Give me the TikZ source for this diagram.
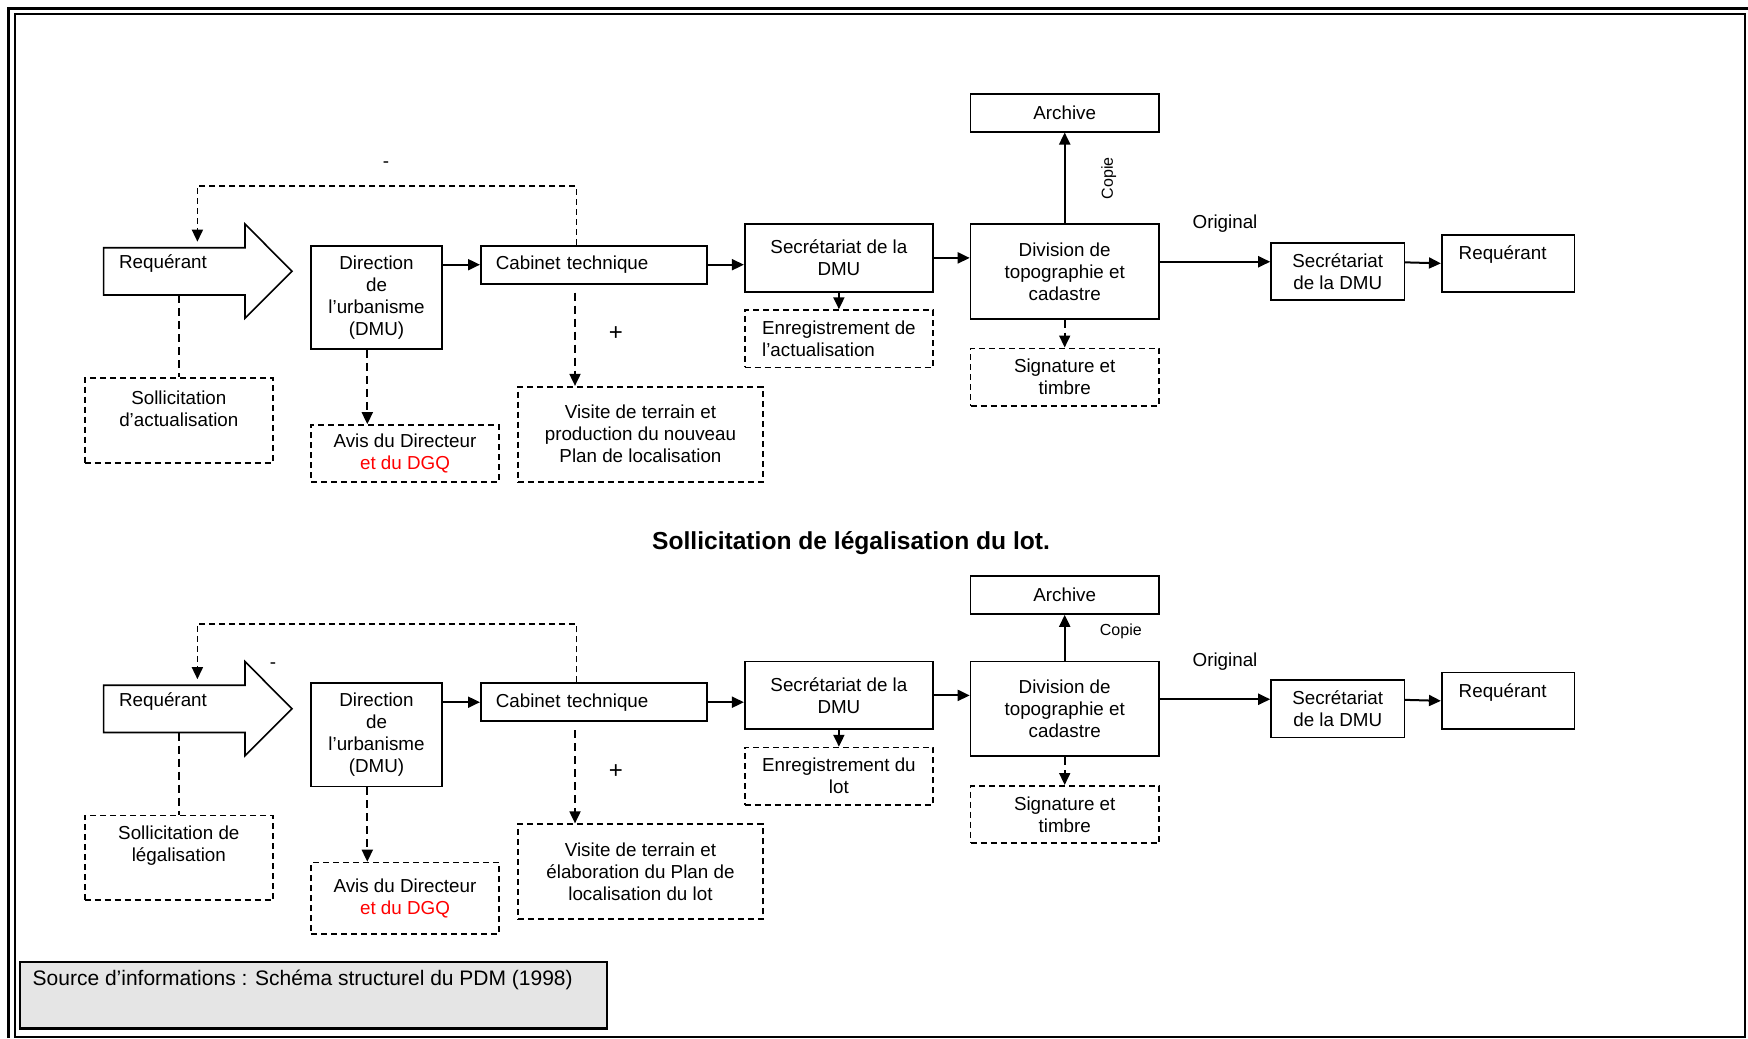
\documentclass[tikz,border=0pt]{standalone}
\usepackage{fontspec}
\setmainfont{Liberation Sans}
\usetikzlibrary{arrows.meta}

\begin{document}
\begin{tikzpicture}[x=0.5pt, y=-0.5pt, >={Triangle[length=6pt,width=5.5pt]},
  every node/.style={font=\fontsize{9.4}{11}\selectfont},
  bloc/.style={draw, line width=0.8pt, align=center, inner sep=1pt},
  pointille/.style={bloc, dash pattern=on 3pt off 2pt},
  fleche/.style={line width=1pt, ->},
  tirets/.style={line width=0.9pt, dash pattern=on 4pt off 2.5pt},
  retour/.style={line width=0.8pt, dash pattern=on 3pt off 2pt, ->}]
\useasboundingbox (0,0) rectangle (1748,1038);

% Cadre
\draw[line width=1.5pt] (8.5,1038) -- (8.5,8.5) -- (1748,8.5);
\draw[line width=1pt] (14.5,14.5) rectangle (1744.5,1036.5);

% Les deux circuits
\foreach \r/\dy/\sol/\enr/\al/\vis/\ha in {
  1/0/Sollicitation\\d’actualisation/Enregistrement de\\l’actualisation/left/Visite de terrain et\\production du nouveau\\Plan de localisation/28.35,
  2/437.5/Sollicitation de\\légalisation/Enregistrement du\\lot/center/Visite de terrain et\\élaboration du Plan de\\localisation du lot/35.85} {
\begin{scope}[shift={(0,\dy)}]
  % Requérant (grande flèche)
  \draw[line width=0.8pt] (103.6,247.7) -- (245,247.7) -- (245,224) -- (292,271.3)
    -- (245,318.3) -- (245,295) -- (103.6,295) -- cycle;
  \node (rq\r) at (163,264) {Requérant};
  \coordinate (rqh\r) at (197.4,241.7);
  \coordinate (rqb\r) at (179,295);

  % Blocs
  \node[bloc, minimum width=65.5pt, minimum height=51.65pt] (dir\r) at (376.5,297.4) {Direction\\de\\l’urbanisme\\(DMU)};
  \node[bloc, text width=98pt, align=left, inner xsep=7.5pt, minimum height=19pt] (cab\r) at (593.8,264.7) {Cabinet technique};
  \node[bloc, minimum width=94.2pt, minimum height=33.85pt] (sec\r) at (838.9,257.9) {Secrétariat de la\\DMU};
  \node[bloc, minimum width=94.2pt, minimum height=47.35pt] (div\r) at (1064.7,271.35) {Division de\\topographie et\\cadastre};
  \node[bloc, minimum width=66.7pt, minimum height=28.65pt] (sdmu\r) at (1337.7,271.35) {Secrétariat\\de la DMU};
  \node[bloc, minimum width=66.3pt, minimum height=28.35pt,
    label={[xshift=-2.7pt, yshift=4.2pt]center:Requérant}] (req\r) at (1508,263.35) {};

  % Blocs en pointillés
  \node[pointille, minimum width=94.15pt, minimum height=42.35pt,
    label={[yshift=5.9pt, align=center]center:\sol}] (sol\r) at (178.85,420.35) {};
  \node[pointille, minimum width=94pt, minimum height=\ha pt] (avis\r) at (405,425+\ha) {Avis du Directeur\\\textcolor{red}{et du DGQ}};
  \node[pointille, minimum width=122.55pt, minimum height=47.5pt] (vis\r) at (640.45,434.2) {\vis};
  \node[pointille, minimum width=94.2pt, minimum height=28.65pt, align/.expanded=\al] (enr\r) at (838.9,338.7) {\enr};
  \node[pointille, minimum width=94.2pt, minimum height=28.7pt] (sig\r) at (1064.7,377) {Signature et\\timbre};

  \node[font=\fontsize{12}{14}\selectfont] (plus\r) at (615.8,334) {+};
  \node (orig\r) at (1225,224) {Original};

  % Flèches
  \draw[fleche] (dir\r.east |- cab\r) -- (cab\r.west);
  \draw[fleche] (cab\r.east) -- (cab\r.east -| sec\r.west);
  \draw[fleche] (sec\r.east) -- (sec\r.east -| div\r.west);
  \draw[fleche] (sec\r.south) -- (enr\r.north);
  \draw[fleche] ([yshift=4.8pt]div\r.east) -- ([yshift=4.8pt]div\r.east -| sdmu\r.west);
  \draw[fleche] ([yshift=4.5pt]sdmu\r.east) -- (req\r.west);
  \draw[tirets, ->] (div\r.south) -- (sig\r.north);
  \draw[tirets, ->] ([xshift=-4.6pt]dir\r.south) -- ([xshift=-4.6pt]dir\r.south |- avis\r.north);
  \draw[tirets, ->] ([xshift=-9.4pt, yshift=-4pt]cab\r.south) -- ([xshift=-9.4pt]cab\r.south |- vis\r.north);
  \draw[tirets] (rqb\r) -- (rqb\r |- sol\r.north);
  \draw[retour] ([xshift=-8.65pt]cab\r.north) -- ++(0,-58.7) -| (rqh\r);
\end{scope}
}

% Archive et copie
\node[bloc, minimum width=94.2pt, minimum height=18.85pt] (arc1) at (1064.7,112.85) {Archive};
\node[bloc, minimum width=94.2pt, minimum height=19pt] (arc2) at (1064.7,595) {Archive};
\draw[fleche] (div1.north) -- (arc1.south);
\draw[fleche] (div2.north) -- (arc2.south);
\node[rotate=90, font=\fontsize{8}{9}\selectfont] (cop1) at (1108.7,178.3) {Copie};
\node[font=\fontsize{8}{9}\selectfont] (cop2) at (1120.8,631.7) {Copie};
\node (moins1) at (386,165) {-};
\node (moins2) at (273,665.7) {-};

% Titre et source
\node[font=\bfseries\fontsize{12.3}{14}\selectfont] (titre) at (851,543.3) {Sollicitation de légalisation du lot.};
\node[draw, line width=1.2pt, fill=black!10, minimum width=293.5pt, minimum height=33.3pt,
  label={[anchor=west, inner sep=0pt, xshift=6.75pt, yshift=-9.5pt, font=\fontsize{10.5}{12}\selectfont]north west:{Source d’informations : Schéma structurel du PDM (1998)}}] (src) at (313.5,995) {};
\end{tikzpicture}
\end{document}
